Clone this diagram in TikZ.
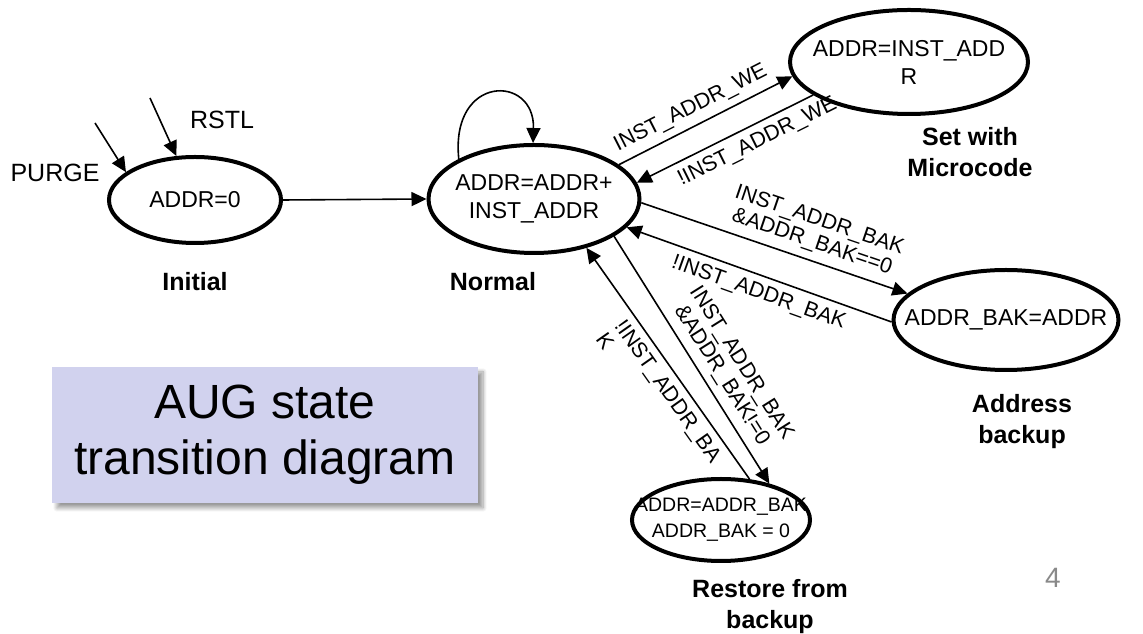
\documentclass[tikz,border=0pt]{standalone}
\usepackage{fontspec}
\setmainfont{Liberation Sans}
\usetikzlibrary{shapes.geometric,arrows.meta,shadows.blur}
\definecolor{boxfill}{RGB}{209,210,238}
\definecolor{pagenum}{RGB}{137,137,137}
\newcommand\stfont{\fontsize{23}{28}\selectfont}
\newcommand\smstfont{\fontsize{19.5}{26}\selectfont}
\newcommand\lbfont{\fontsize{21.5}{23}\selectfont}
\newcommand\inpfont{\fontsize{25}{28}\selectfont}
\newcommand\capfont{\fontsize{25}{31}\selectfont\bfseries}
\newcommand\boxfont{\fontsize{48}{56}\selectfont}
\begin{document}
\begin{tikzpicture}[x=1pt,y=1pt,
  state/.style={ellipse, draw, line width=4pt, inner sep=0pt},
  statetext/.style={font=\stfont, align=center},
  caption/.style={font=\capfont, align=center},
  trans/.style={line width=1.6pt, -{Triangle[length=15pt,width=14pt]}},
  cond/.style={font=\lbfont, align=center, sloped, inner sep=7pt},
]
\useasboundingbox (0,0) rectangle (1143,634);

% states
\node[state, minimum width=172, minimum height=86,
      label={[statetext]center:ADDR=0}] (init) at (195,434) {};
\node[state, minimum width=211, minimum height=108,
      label={[statetext]center:ADDR=ADDR+\\INST\_ADDR}] (normal) at (534,435) {};
\node[state, minimum width=238, minimum height=104,
      label={[statetext]center:ADDR=INST\_ADD\\R}] (setmc) at (909,572) {};
\node[state, minimum width=225, minimum height=100,
      label={[statetext]center:ADDR\_BAK=ADDR}] (addr) at (1006,314) {};
\node[state, minimum width=178, minimum height=82,
      label={[statetext, font=\smstfont]center:ADDR=ADDR\_BAK\\ADDR\_BAK = 0}] (restore) at (721,114) {};

% state names
\node[caption] (capinit) at (195,352) {Initial};
\node[caption] (capnormal) at (493,352) {Normal};
\node[caption] (capset) at (970,482) {Set with\\Microcode};
\node[caption] (capaddr) at (1022,212) {Address\\backup};
\node[caption] (caprestore) at (770,27) {Restore from\\backup};

% reset inputs
\coordinate (purgesrc) at (95,511);
\coordinate (rstlsrc) at (150,536);
\node[font=\inpfont] (purge) at (55,461) {PURGE};
\node[font=\inpfont] (rstl) at (222,514) {RSTL};
\draw[trans] (purgesrc) -- (init.158);
\draw[trans] (rstlsrc) -- (init.113);

% transitions
\draw[trans] (init.east) -- (normal.west);
\draw[trans] (normal.152) .. controls (450,560) and (535,560) .. (normal.91);

\draw[trans] (normal.22) -- node[cond, above, pos=0.46] {INST\_ADDR\_WE} (setmc.187);
\draw[trans] (setmc.199) -- node[cond, below, pos=0.36] {!INST\_ADDR\_WE} (normal.9);

\draw[trans] (normal.-2) -- node[cond, above, pos=0.62]
  {INST\_ADDR\_BAK\\\&ADDR\_BAK==0} (addr.165);
\draw[trans] (addr.181) -- node[cond, below, pos=0.48] {!INST\_ADDR\_BAK} (normal.-17);

\draw[trans] (normal.-25) -- node[cond, above, pos=0.6]
  {INST\_ADDR\_BAK\\\&ADDR\_BAK!=0} (restore.37);
\draw[trans] (restore.55) -- node[cond, below, pos=0.42, align=left]
  {!INST\_ADDR\_BA\\K} (normal.-43);

% title panel
\node[fill=boxfill, minimum width=426, minimum height=136, font=\boxfont,
      align=center,
      blur shadow={shadow xshift=5pt, shadow yshift=-5pt, shadow blur steps=8,
                   shadow blur radius=4pt}] (title) at (265,199)
  {AUG state\\transition diagram};

% page number
\node[font=\fontsize{28}{28}\selectfont, text=pagenum] (pnum) at (1053,56) {4};
\end{tikzpicture}
\end{document}
